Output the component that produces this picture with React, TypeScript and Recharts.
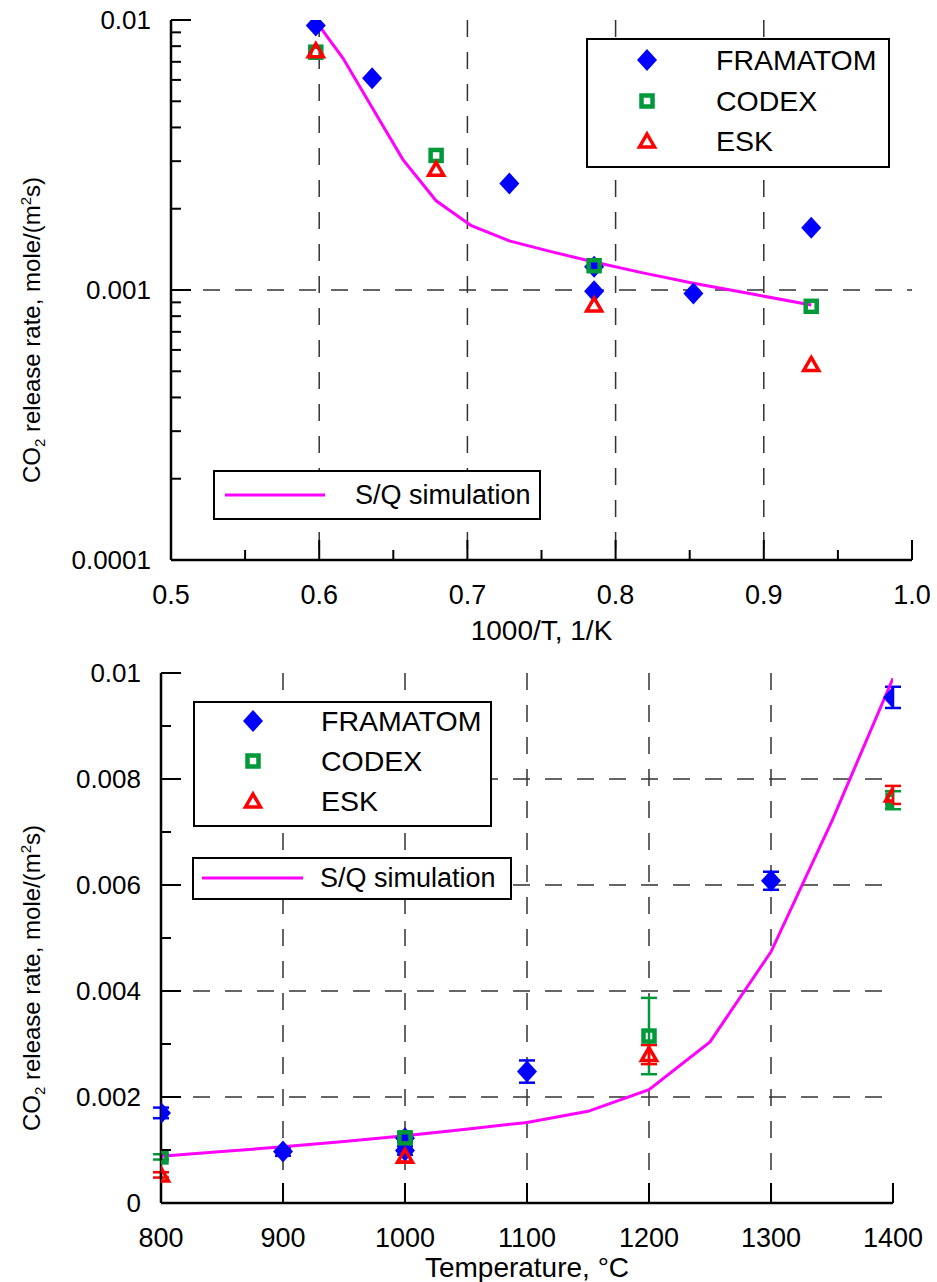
import React from "react";
import {
  CartesianGrid,
  ComposedChart,
  ErrorBar,
  Legend,
  Line,
  Scatter,
  XAxis,
  YAxis,
} from "recharts";

const FONT = '"Liberation Sans", Arial, sans-serif';
const BLUE = "#0000ff";
const GREEN = "#00993a";
const RED = "#ff0000";
const MAGENTA = "#ff00ff";

// FRAMATOM tests: temperature (°C), same points as 1000/T (1/K), rate and error
const framatomTemp = [800, 900, 1000, 1000, 1100, 1300, 1400];
const framatomInvT = [0.932, 0.8525, 0.7855, 0.7855, 0.7283, 0.6357, 0.5977];
const framatomRate = [0.0017, 0.00097, 0.00122, 0.00099, 0.00248, 0.00608, 0.00954];
const framatomErr = [0.0001, 0.00008, 0.00005, 0.00008, 0.00021, 0.00017, 0.0002];

// CODEX tests
const codexTemp = [800, 1000, 1200, 1400];
const codexInvT = [0.932, 0.7855, 0.6789, 0.5977];
const codexRate = [0.00087, 0.00123, 0.00315, 0.0076];
const codexErr = [0.00005, 0.0001, 0.00072, 0.00017];

// ESK tests
const eskTemp = [800, 1000, 1200, 1400];
const eskInvT = [0.932, 0.7855, 0.6789, 0.5977];
const eskRate = [0.00053, 0.00088, 0.0028, 0.0077];
const eskErr = [0.00005, 0.0001, 0.00018, 0.00017];

// S/Q simulation
const simTemp = [800, 850, 900, 950, 1000, 1050, 1100, 1150, 1200, 1250, 1300, 1350, 1400];
const simInvT = [0.932, 0.8904, 0.8525, 0.8176, 0.7855, 0.7558, 0.7283, 0.7027, 0.6789, 0.6565, 0.6357, 0.6161, 0.5977];
const simRate = [0.00088, 0.00097, 0.00106, 0.00116, 0.00127, 0.00139, 0.00152, 0.00173, 0.00214, 0.00304, 0.00474, 0.00721, 0.0099];

// axis ticks
const invTTicks = [0.5, 0.55, 0.6, 0.65, 0.7, 0.75, 0.8, 0.85, 0.9, 0.95, 1.0];
const invTLabels = [0.5, 0.6, 0.7, 0.8, 0.9, 1.0];
const logTicks = [
  0.0001, 0.0002, 0.0003, 0.0004, 0.0005, 0.0006, 0.0007, 0.0008, 0.0009,
  0.001, 0.002, 0.003, 0.004, 0.005, 0.006, 0.007, 0.008, 0.009, 0.01,
];
const logLabels = [0.0001, 0.001, 0.01];
const tempTicks = [800, 900, 1000, 1100, 1200, 1300, 1400];
const rateTicks = [0, 0.001, 0.002, 0.003, 0.004, 0.005, 0.006, 0.007, 0.008, 0.009, 0.01];
const rateLabels = [0, 0.002, 0.004, 0.006, 0.008, 0.01];

const SIM = "S/Q simulation";
const seriesOrder = ["FRAMATOM", "CODEX", "ESK"];

const pts = (xs: number[], ys: number[], es?: number[]) =>
  xs.map((x, i) => ({ x, y: ys[i], err: es ? es[i] : 0 }));

const isIn = (list: number[], v: number) =>
  list.some((l) => Math.abs(l - v) <= 1e-9 + Math.abs(l) * 1e-6);

// markers
const diamond = (p: any) => (
  <path d={`M${p.cx},${p.cy - 11}L${p.cx + 10},${p.cy}L${p.cx},${p.cy + 11}L${p.cx - 10},${p.cy}Z`} fill={BLUE} />
);
const square = (p: any) => (
  <rect x={p.cx - 5.5} y={p.cy - 5.5} width={11} height={11} fill="none" stroke={GREEN} strokeWidth={4.5} />
);
const triangle = (p: any) => (
  <path
    d={`M${p.cx},${p.cy - 7}L${p.cx + 7.5},${p.cy + 6}L${p.cx - 7.5},${p.cy + 6}Z`}
    fill="none"
    stroke={RED}
    strokeWidth={3.5}
  />
);
const markerOf: Record<string, (p: any) => React.ReactElement> = {
  FRAMATOM: diamond,
  CODEX: square,
  ESK: triangle,
};

const xTick = (labels: number[], fmt: (v: number) => string) => (p: any) => {
  const v = p.payload.value;
  const major = isIn(labels, v);
  return (
    <g>
      <line x1={p.x} x2={p.x} y1={p.y} y2={p.y - (major ? 20 : 10)} stroke="#000" strokeWidth={2} />
      {major && (
        <text x={p.x} y={p.y + 44} textAnchor="middle" fontSize={27} fontFamily={FONT} fill="#000">
          {fmt(v)}
        </text>
      )}
    </g>
  );
};

const yTick = (labels: number[]) => (p: any) => {
  const v = p.payload.value;
  const major = isIn(labels, v);
  return (
    <g>
      <line x1={p.x} x2={p.x + (major ? 20 : 10)} y1={p.y} y2={p.y} stroke="#000" strokeWidth={2} />
      {major && (
        <text x={p.x - 20} y={p.y + 9} textAnchor="end" fontSize={26} fontFamily={FONT} fill="#000">
          {String(v)}
        </text>
      )}
    </g>
  );
};

function YTitle(props: any) {
  const vb = props.viewBox || { x: 0, y: 0, height: 0 };
  const cy = vb.y + vb.height / 2 + 40;
  return (
    <text transform={`translate(${vb.x + 40}, ${cy}) rotate(-90)`} textAnchor="middle" fontSize={24} fontFamily={FONT} fill="#000">
      CO
      <tspan fontSize={15} dy={5}>2</tspan>
      <tspan dy={-5}> release rate, mole/(m</tspan>
      <tspan fontSize={15} dy={-9}>2</tspan>
      <tspan dy={9}>s)</tspan>
    </text>
  );
}

function XTitle(props: any) {
  const vb = props.viewBox || { x: 0, y: 0, width: 0 };
  return (
    <text x={vb.x + vb.width / 2} y={vb.y + props.dy} textAnchor="middle" fontSize={28} fontFamily={FONT} fill="#000">
      {props.text}
    </text>
  );
}

type BoxPos = {
  markers: { left: number; top: number; width: number; height: number; iconX: number; textX: number; rows: number[] };
  line: { left: number; top: number; width: number; height: number; x1: number; x2: number; y: number; textX: number };
};

function LegendBoxes(props: any) {
  const pos: BoxPos = props.pos;
  const items = (props.payload || []) as any[];
  const markerItems = items
    .filter((it) => it.value !== SIM)
    .sort((a, b) => seriesOrder.indexOf(a.value) - seriesOrder.indexOf(b.value));
  const lineItem = items.find((it) => it.value === SIM);
  const box = (l: number, t: number, w: number, h: number): React.CSSProperties => ({
    position: "absolute",
    left: l,
    top: t,
    width: w,
    height: h,
    border: "2px solid #000",
    background: "#fff",
    boxSizing: "border-box",
  });
  const m = pos.markers;
  const ln = pos.line;
  return (
    <div style={{ position: "relative", fontFamily: FONT, color: "#000" }}>
      <div style={box(m.left, m.top, m.width, m.height)}>
        {markerItems.map((it, i) => {
          const draw = markerOf[it.value];
          return (
            <React.Fragment key={it.value}>
              <svg width={24} height={24} style={{ position: "absolute", left: m.iconX - 12 - 2, top: m.rows[i] - 12 - 2, overflow: "visible" }}>
                {draw ? draw({ cx: 12, cy: 12 }) : null}
              </svg>
              <div style={{ position: "absolute", left: m.textX - 2, top: m.rows[i] - 14 - 2, fontSize: 28.5, lineHeight: "28px", whiteSpace: "nowrap" }}>
                {it.value}
              </div>
            </React.Fragment>
          );
        })}
      </div>
      {lineItem && (
        <div style={box(ln.left, ln.top, ln.width, ln.height)}>
          <svg width={ln.x2} height={6} style={{ position: "absolute", left: -2, top: ln.y - 3 - 2, overflow: "visible" }}>
            <line x1={ln.x1} x2={ln.x2} y1={3} y2={3} stroke={lineItem.color || MAGENTA} strokeWidth={3} />
          </svg>
          <div style={{ position: "absolute", left: ln.textX - 2, top: ln.y - 14 - 2, fontSize: 27, lineHeight: "28px", whiteSpace: "nowrap" }}>
            {lineItem.value}
          </div>
        </div>
      )}
    </div>
  );
}

const axisLine = { stroke: "#000", strokeWidth: 2.5 };
const gridProps = { stroke: "#333", strokeWidth: 1.5, strokeDasharray: "17 15" };

const topLegend: BoxPos = {
  markers: { left: 586, top: 38, width: 304, height: 130, iconX: 61, textX: 130, rows: [22, 63, 103] },
  line: { left: 213, top: 470, width: 328, height: 50, x1: 12, x2: 112, y: 25, textX: 142 },
};
const bottomLegend: BoxPos = {
  markers: { left: 193, top: 61, width: 299, height: 126, iconX: 60, textX: 128, rows: [20, 60, 100] },
  line: { left: 192, top: 217, width: 320, height: 43, x1: 10, x2: 111, y: 21, textX: 128 },
};

function ArrheniusChart() {
  return (
    <ComposedChart width={937} height={650} margin={{ top: 20, right: 25, bottom: 0, left: 0 }}>
      <CartesianGrid {...gridProps} horizontalValues={[0.001]} verticalValues={[0.6, 0.7, 0.8, 0.9]} />
      <XAxis
        dataKey="x"
        type="number"
        domain={[0.5, 1.0]}
        ticks={invTTicks}
        interval={0}
        allowDataOverflow
        height={90}
        tickSize={0}
        tickMargin={0}
        tickLine={false}
        tick={xTick(invTLabels, (v) => v.toFixed(1))}
        axisLine={axisLine}
        label={<XTitle text="1000/T, 1/K" dy={80} />}
      />
      <YAxis
        dataKey="y"
        type="number"
        scale="log"
        domain={[0.0001, 0.01]}
        ticks={logTicks}
        interval={0}
        allowDataOverflow
        width={171}
        tickSize={0}
        tickMargin={0}
        tickLine={false}
        tick={yTick(logLabels)}
        axisLine={axisLine}
        label={<YTitle />}
      />
      <XAxis xAxisId="frame" orientation="top" type="number" domain={[0, 1]} height={0} tick={false} tickLine={false} axisLine={axisLine} />
      <YAxis yAxisId="frame" orientation="right" type="number" domain={[0, 1]} width={0} tick={false} tickLine={false} axisLine={axisLine} />
      <Scatter name="FRAMATOM" data={pts(framatomInvT, framatomRate)} fill={BLUE} shape={diamond} isAnimationActive={false} />
      <Scatter name="CODEX" data={pts(codexInvT, codexRate)} fill={GREEN} shape={square} isAnimationActive={false} />
      <Scatter name="ESK" data={pts(eskInvT, eskRate)} fill={RED} shape={triangle} isAnimationActive={false} />
      <Line name={SIM} data={pts(simInvT, simRate)} dataKey="y" type="linear" stroke={MAGENTA} strokeWidth={3} dot={false} activeDot={false} isAnimationActive={false} />
      <Legend content={(p: any) => <LegendBoxes {...p} pos={topLegend} />} wrapperStyle={{ left: 0, top: 0, width: 0, height: 0 }} />
    </ComposedChart>
  );
}

function TemperatureChart() {
  return (
    <ComposedChart width={937} height={642} margin={{ top: 33, right: 44, bottom: 0, left: 0 }}>
      <CartesianGrid {...gridProps} horizontalValues={[0.002, 0.004, 0.006, 0.008]} verticalValues={[900, 1000, 1100, 1200, 1300]} />
      <XAxis
        dataKey="x"
        type="number"
        domain={[800, 1400]}
        ticks={tempTicks}
        interval={0}
        allowDataOverflow
        height={79}
        tickSize={0}
        tickMargin={0}
        tickLine={false}
        tick={xTick(tempTicks, (v) => String(v))}
        axisLine={axisLine}
        label={<XTitle text="Temperature, °C" dy={74} />}
      />
      <YAxis
        dataKey="y"
        type="number"
        domain={[0, 0.01]}
        ticks={rateTicks}
        interval={0}
        allowDataOverflow
        width={161}
        tickSize={0}
        tickMargin={0}
        tickLine={false}
        tick={yTick(rateLabels)}
        axisLine={axisLine}
        label={<YTitle />}
      />
      <XAxis xAxisId="frame" orientation="top" type="number" domain={[0, 1]} height={0} tick={false} tickLine={false} axisLine={axisLine} />
      <YAxis yAxisId="frame" orientation="right" type="number" domain={[0, 1]} width={0} tick={false} tickLine={false} axisLine={axisLine} />
      <Scatter name="FRAMATOM" data={pts(framatomTemp, framatomRate, framatomErr)} fill={BLUE} shape={diamond} isAnimationActive={false}>
        <ErrorBar dataKey="err" direction="y" width={8} stroke={BLUE} strokeWidth={2.5} />
      </Scatter>
      <Scatter name="CODEX" data={pts(codexTemp, codexRate, codexErr)} fill={GREEN} shape={square} isAnimationActive={false}>
        <ErrorBar dataKey="err" direction="y" width={8} stroke={GREEN} strokeWidth={2.5} />
      </Scatter>
      <Scatter name="ESK" data={pts(eskTemp, eskRate, eskErr)} fill={RED} shape={triangle} isAnimationActive={false}>
        <ErrorBar dataKey="err" direction="y" width={8} stroke={RED} strokeWidth={2.5} />
      </Scatter>
      <Line name={SIM} data={pts(simTemp, simRate)} dataKey="y" type="linear" stroke={MAGENTA} strokeWidth={3} dot={false} activeDot={false} isAnimationActive={false} />
      <Legend content={(p: any) => <LegendBoxes {...p} pos={bottomLegend} />} wrapperStyle={{ left: 0, top: 0, width: 0, height: 0 }} />
    </ComposedChart>
  );
}

export default function App() {
  return (
    <div style={{ position: "absolute", left: 0, top: 0, width: 937, height: 1282, background: "#fff", fontFamily: FONT }}>
      <div style={{ position: "absolute", left: 0, top: 0 }}>
        <ArrheniusChart />
      </div>
      <div style={{ position: "absolute", left: 0, top: 640 }}>
        <TemperatureChart />
      </div>
    </div>
  );
}
